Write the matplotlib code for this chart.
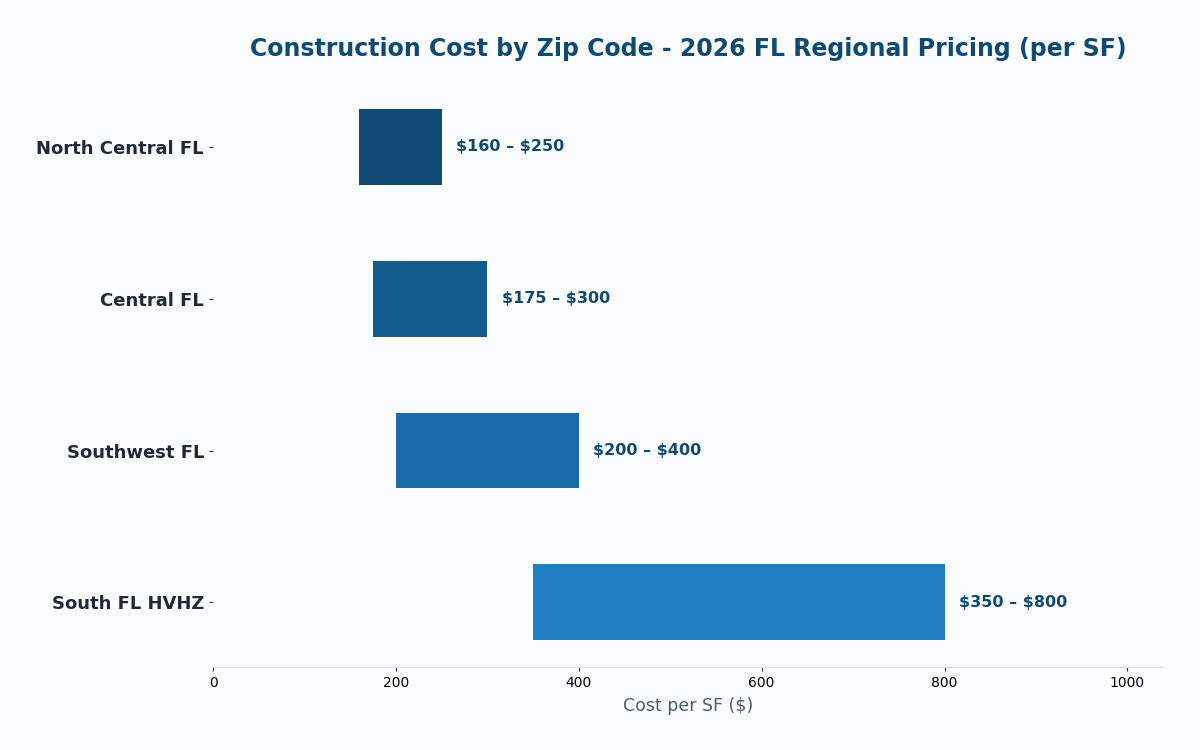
import matplotlib.pyplot as plt

regions = ['North Central FL', 'Central FL', 'Southwest FL', 'South FL HVHZ']
low_cost = [160, 175, 200, 350]
high_cost = [250, 300, 400, 800]
bar_colors = ['#0F4A75', '#145B8F', '#1B6BAA', '#1F7FC2']

bg = '#FBFCFE'
fig, ax = plt.subplots(figsize=(12, 7.5), dpi=100)
fig.patch.set_facecolor(bg)
ax.set_facecolor(bg)
fig.subplots_adjust(left=0.1775, right=0.97, top=0.89, bottom=0.111)

widths = [h - l for l, h in zip(low_cost, high_cost)]
ax.barh(regions, widths, left=low_cost, height=0.5, color=bar_colors)
ax.invert_yaxis()

for i, (l, h) in enumerate(zip(low_cost, high_cost)):
    ax.text(h + 16, i, f'\\${l} – \\${h}', va='center', ha='left',
            fontsize=11.5, fontweight='bold', color='#0F4A75')

ax.set_xlim(0, 1040)
ax.set_xticks([0, 200, 400, 600, 800, 1000])
ax.tick_params(axis='x', labelsize=10, length=3, color='#333333')
ax.tick_params(axis='y', labelsize=13, length=3, color='#333333')
for lbl in ax.get_yticklabels():
    lbl.set_fontweight('bold')
    lbl.set_color('#1F2A36')

for s in ['top', 'right', 'left']:
    ax.spines[s].set_visible(False)
ax.spines['bottom'].set_color('#DDDDDD')

ax.set_xlabel('Cost per SF (\\$)', fontsize=12.5, color='#4A5E72', labelpad=5)
ax.set_title('Construction Cost by Zip Code - 2026 FL Regional Pricing (per SF)',
             fontsize=17, fontweight='bold', color='#0F4A75', pad=19)

fig.savefig('out.png', facecolor=bg)
